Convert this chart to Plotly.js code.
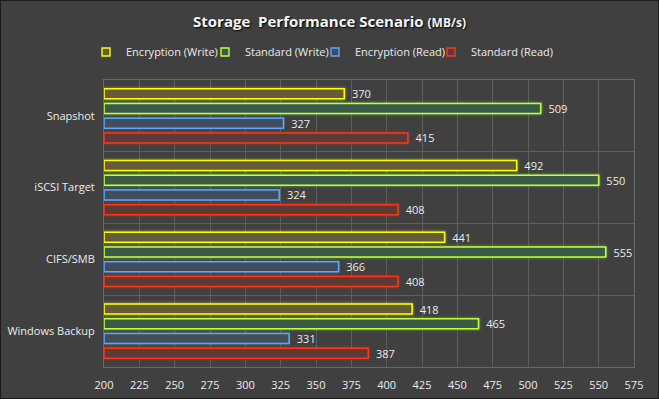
<!DOCTYPE html>
<html>
<head>
<meta charset="utf-8">
<script src="https://cdn.plot.ly/plotly-3.0.1.min.js"></script>
<style>
  html, body { margin: 0; padding: 0; background: #404040; }
  #wrap { position: relative; width: 659px; height: 399px; }
  #chart { width: 659px; height: 399px; }
  #frame { position: absolute; left: 0; top: 0; width: 659px; height: 399px; box-sizing: border-box; border: 1px solid #1c1c1c; pointer-events: none; }
  .barlayer .trace:nth-child(1) .point path { filter: drop-shadow(0 0 1.5px rgba(255,255,0,0.55)); }
  .barlayer .trace:nth-child(2) .point path { filter: drop-shadow(0 0 1.5px rgba(120,255,60,0.55)); }
  .barlayer .trace:nth-child(3) .point path { filter: drop-shadow(0 0 1px rgba(80,160,255,0.35)); }
  .barlayer .trace:nth-child(4) .point path { filter: drop-shadow(0 0 1.5px rgba(255,50,20,0.55)); }
</style>
</head>
<body>
<div id="wrap"><div id="chart"></div><div id="frame"></div></div>
<script>
// ---- data ----
const categories = ["Snapshot", "iSCSI Target", "CIFS/SMB", "Windows Backup"];
const seriesNames = ["Encryption (Write)", "Standard (Write)", "Encryption (Read)", "Standard (Read)"];
const encryptionWrite = [370, 492, 441, 418];
const standardWrite   = [509, 550, 555, 465];
const encryptionRead  = [327, 324, 366, 331];
const standardRead    = [415, 408, 408, 387];
const xTicks = [200, 225, 250, 275, 300, 325, 350, 375, 400, 425, 450, 475, 500, 525, 550, 575];

// ---- styles ----
const axisStart = 200;
const lineColors = ["#ffff00", "#c4ff3c", "#58a8ff", "#ff3418"];
const fillColors = ["#645c38", "#3c5a48", "#424c5a", "#5c3a36"];
const legendLeft = [86, 205, 315, 431];   // px, container
const seriesValues = [encryptionWrite, standardWrite, encryptionRead, standardRead];
const labelFont = { family: "Open Sans, sans-serif", size: 11, color: "#ececec" };

const traces = [];
seriesValues.forEach((vals, i) => {
  traces.push({
    type: "bar",
    orientation: "h",
    name: seriesNames[i],
    y: categories,
    x: vals.map(v => v - axisStart),
    base: axisStart,
    text: vals.map(v => "\u00a0\u2009" + v),
    textposition: "outside",
    constraintext: "none",
    textfont: labelFont,
    cliponaxis: false,
    marker: { color: fillColors[i], line: { color: lineColors[i], width: 1.6 } },
    showlegend: false,
    hoverinfo: "skip"
  });
});
// legend entries (small outlined squares), one legend each for exact placement
const legendIds = ["legend", "legend2", "legend3", "legend4"];
seriesNames.forEach((name, i) => {
  traces.push({
    type: "scatter",
    mode: "markers",
    name: name,
    x: [null],
    y: [null],
    legend: legendIds[i],
    marker: { symbol: "square", size: 8, color: fillColors[i], line: { color: lineColors[i], width: 1.4 } },
    showlegend: true,
    hoverinfo: "skip"
  });
});

const gridColor = "#5e5e5e";
const layout = {
  width: 659,
  height: 399,
  paper_bgcolor: "#404040",
  plot_bgcolor: "#404040",
  margin: { l: 104, r: 25, t: 80, b: 32 },
  barmode: "group",
  bargap: 0.18,
  bargroupgap: 0.32,
  title: {
    text: "<b>Storage  Performance Scenario</b> <b><span style='font-size:12px'>(MB/s)</span></b>",
    font: { family: "Open Sans, sans-serif", size: 15, color: "#f4f4f4", shadow: "1px 1px 2px #000" },
    x: 0.5, xanchor: "center", xref: "container",
    y: 1 - 22 / 399, yanchor: "middle", yref: "container"
  },
  xaxis: {
    range: [200, 575],
    tickvals: xTicks,
    ticktext: xTicks.map(String),
    tickfont: labelFont,
    showgrid: true,
    gridcolor: gridColor,
    gridwidth: 1,
    zeroline: false,
    showline: true,
    linecolor: "#6a6a6a",
    mirror: true,
    ticks: "",
    ticklabelstandoff: 8
  },
  yaxis: {
    type: "category",
    categoryorder: "array",
    categoryarray: categories,
    autorange: "reversed",
    tickfont: labelFont,
    showgrid: true,
    gridcolor: gridColor,
    tickson: "boundaries",
    ticks: "",
    zeroline: false,
    showline: true,
    linecolor: "#6a6a6a",
    mirror: true,
    ticklabelstandoff: 6
  },
  font: labelFont
};
legendIds.forEach((id, i) => {
  layout[id] = {
    orientation: "h",
    x: legendLeft[i] / 659, xanchor: "left", xref: "container",
    y: 1 - 52 / 399, yanchor: "middle", yref: "container",
    font: labelFont,
    itemsizing: "trace",
    itemwidth: 30,
    bgcolor: "rgba(0,0,0,0)"
  };
});

Plotly.newPlot("chart", traces, layout, { displayModeBar: false, staticPlot: true });
</script>
</body>
</html>
